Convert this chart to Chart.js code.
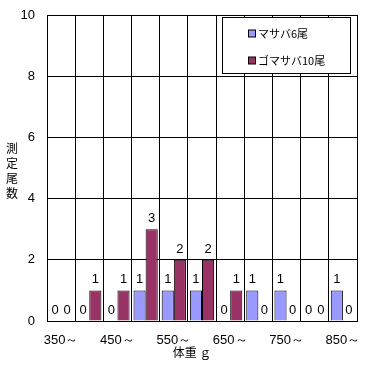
<!DOCTYPE html>
<html>
<head>
<meta charset="utf-8">
<script src="https://cdn.jsdelivr.net/npm/chart.js@4/dist/chart.umd.min.js"></script>
<style>
html,body{margin:0;padding:0;background:#fff;}
canvas{display:block;}
</style>
</head>
<body>
<canvas id="c" width="375" height="366"></canvas>
<script>
// ---- data ----
const categories = ["350～","400～","450～","500～","550～","600～","650～","700～","750～","800～","850～"];
const seriesNames = ["マサバ6尾","ゴマサバ10尾"];
const masaba = [0,0,0,1,1,1,0,1,1,0,1];
const gomasaba = [0,1,1,3,2,2,1,0,0,0,0];
const yTicks = [0,2,4,6,8,10];
const yTitleChars = ["測","定","尾","数"];
const xTitle = "体重 ｇ";

const NUM_FONT = "'Liberation Sans Narrow','Liberation Sans',Arial,sans-serif";
const JP_FONT = "'Noto Sans CJK JP','Liberation Sans',sans-serif";
const colors = ["#9999FF","#993366"];

const extras = {
  id: 'extras',
  afterDraw(chart) {
    const ctx = chart.ctx;
    ctx.save();
    ctx.setTransform(1, 0, 0, 1, 0, 0);
    // value labels
    ctx.fillStyle = '#000';
    ctx.font = "13px " + NUM_FONT;
    ctx.textAlign = 'center';
    ctx.textBaseline = 'bottom';
    chart.data.datasets.forEach((ds, i) => {
      const meta = chart.getDatasetMeta(i);
      meta.data.forEach((el, j) => {
        ctx.fillText(String(ds.data[j]), el.x, el.y - 4);
      });
    });
    // legend box
    const lx = 222.5, ly = 17.5, lw = 128, lh = 56;
    ctx.fillStyle = '#fff';
    ctx.fillRect(lx, ly, lw, lh);
    ctx.strokeStyle = '#000';
    ctx.lineWidth = 1;
    ctx.strokeRect(lx, ly, lw, lh);
    const rows = [33.5, 60.5];
    chart.data.datasets.forEach((ds, i) => {
      const cy = rows[i];
      ctx.fillStyle = ds.backgroundColor;
      ctx.fillRect(248.5, cy - 3.5, 7, 7);
      ctx.strokeStyle = '#000';
      ctx.strokeRect(248.5, cy - 3.5, 7, 7);
      ctx.fillStyle = '#000';
      ctx.font = "11px " + JP_FONT;
      ctx.textAlign = 'left';
      ctx.textBaseline = 'middle';
      ctx.fillText(ds.label, 258, cy);
    });
    // y title (vertical stacked)
    ctx.fillStyle = '#000';
    ctx.font = "12px " + JP_FONT;
    ctx.textAlign = 'center';
    ctx.textBaseline = 'middle';
    for (let k = 0; k < yTitleChars.length; k++) {
      ctx.fillText(yTitleChars[k], 12, 148 + k * 15);
    }
    // x title
    ctx.fillText(xTitle, 192, 352);
    ctx.restore();
  }
};

new Chart(document.getElementById('c'), {
  type: 'bar',
  data: {
    labels: categories,
    datasets: [
      { label: seriesNames[0], data: masaba, backgroundColor: colors[0], borderColor: '#000', borderWidth: 1 },
      { label: seriesNames[1], data: gomasaba, backgroundColor: colors[1], borderColor: '#000', borderWidth: 1 }
    ]
  },
  options: {
    responsive: false,
    animation: false,
    devicePixelRatio: 1,
    layout: { padding: { top: 15, right: 18, left: 0, bottom: 0 } },
    categoryPercentage: 0.86,
    barPercentage: 1.0,
    plugins: { legend: { display: false }, tooltip: { enabled: false } },
    scales: {
      x: {
        grid: { color: '#000', lineWidth: 1, drawTicks: false, offset: true },
        border: { color: '#000', width: 1 },
        ticks: {
          autoSkip: false, maxRotation: 0, minRotation: 0, padding: 12,
          color: '#000', font: { size: 13, family: NUM_FONT },
          callback: function(v, i) { return i % 2 === 0 ? this.getLabelForValue(v) : ''; }
        },
        afterFit(scale) { scale.height = 45; }
      },
      y: {
        min: 0, max: 10,
        afterBuildTicks(scale) { scale.ticks = yTicks.map(v => ({ value: v })); },
        grid: { color: '#000', lineWidth: 1, drawTicks: false },
        border: { color: '#000', width: 1 },
        ticks: { padding: 12, color: '#000', font: { size: 13, family: NUM_FONT } },
        afterFit(scale) { scale.width = 47; scale.paddingTop = 0; scale.paddingBottom = 0; }
      }
    }
  },
  plugins: [extras]
});
</script>
</body>
</html>
